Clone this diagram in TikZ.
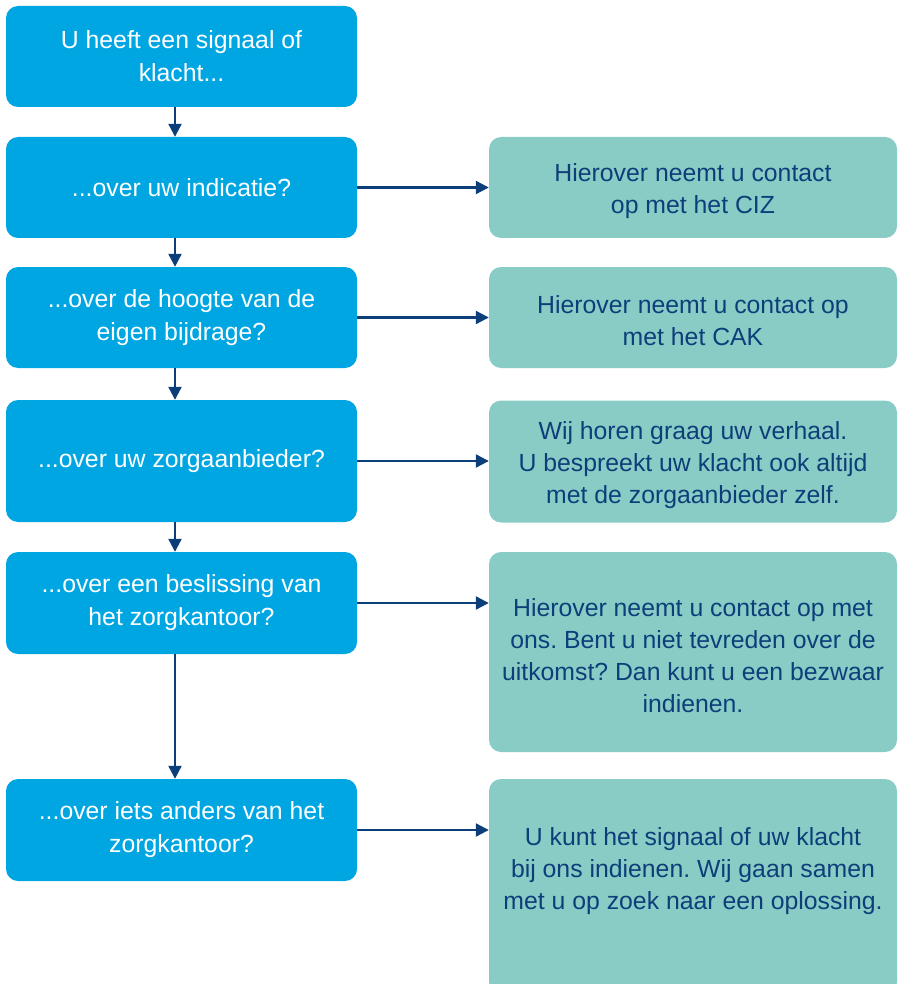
\documentclass[tikz,border=0pt]{standalone}
\usepackage{fontspec}
\setmainfont{Liberation Sans}
\usetikzlibrary{arrows.meta}
\definecolor{leftblue}{HTML}{00A6E2}
\definecolor{rightteal}{HTML}{89CCC5}
\definecolor{navy}{HTML}{0C3F7A}
\frenchspacing
\begin{document}
\begin{tikzpicture}[x=1pt,y=-1pt,
  lbox/.style={rounded corners=12pt, fill=leftblue, text=white, minimum width=351pt, align=center, inner sep=0pt, font=\fontsize{24.8}{33}\selectfont},
  rbox/.style={rounded corners=12pt, fill=rightteal, minimum width=408pt, inner sep=0pt},
  ttext/.style={text=navy, align=center, inner sep=0pt, font=\fontsize{24.8}{32}\selectfont},
  arr/.style={draw=navy, line width=2.2pt, -{Triangle[length=13pt,width=13pt]}}]
\useasboundingbox (0,0) rectangle (897,984);
\coordinate (ax) at (175,0);
% left boxes
\node[lbox, minimum height=101pt] (l1) at (181.5,56.5) {U heeft een signaal of\\klacht...};
\node[lbox, minimum height=101pt] (l2) at (181.5,187.5) {...over uw indicatie?};
\node[lbox, minimum height=101pt] (l3) at (181.5,317.5) {...over de hoogte van de\\eigen bijdrage?};
\node[lbox, minimum height=122pt] (l4) at (181.5,461) {...over uw zorgaanbieder?};
\node[lbox, minimum height=102pt] (l5) at (181.5,603) {...over een beslissing van\\het zorgkantoor?};
\node[lbox, minimum height=102pt] (l6) at (181.5,830) {...over iets anders van het\\zorgkantoor?};
% right boxes
\node[rbox, minimum height=101pt] (r1) at (693,187.5) {};
\node[rbox, minimum height=101pt] (r2) at (693,317.5) {};
\node[rbox, minimum height=122pt] (r3) at (693,461.5) {};
\node[rbox, minimum height=200pt] (r4) at (693,652) {};
\node[rbox, minimum height=215pt] (r5) at (693,886.5) {};
\node[ttext] (r1t) at (693,191) {Hierover neemt u contact\\op met het CIZ};
\node[ttext] (r2t) at (693,321) {Hierover neemt u contact op\\met het CAK};
\node[ttext] (r3t) at (693,465) {Wij horen graag uw verhaal.\\U bespreekt uw klacht ook altijd\\met de zorgaanbieder zelf.};
\node[ttext] (r4t) at (693,656) {Hierover neemt u contact op met\\ons. Bent u niet tevreden over de\\uitkomst? Dan kunt u een bezwaar\\indienen.};
\node[ttext] (r5t) at (693,871) {U kunt het signaal of uw klacht\\bij ons indienen. Wij gaan samen\\met u op zoek naar een oplossing.};
% vertical arrows
\draw[arr] (l1.south -| ax) -- (l2.north -| ax);
\draw[arr] (l2.south -| ax) -- (l3.north -| ax);
\draw[arr] (l3.south -| ax) -- (l4.north -| ax);
\draw[arr] (l4.south -| ax) -- (l5.north -| ax);
\draw[arr] (l5.south -| ax) -- (l6.north -| ax);
% horizontal arrows
\draw[arr] (l2.east) -- (r1.west |- l2.east);
\draw[arr] (l3.east) -- (r2.west |- l3.east);
\draw[arr] (l4.east) -- (r3.west |- l4.east);
\draw[arr] (l5.east) -- (r4.west |- l5.east);
\draw[arr] (l6.east) -- (r5.west |- l6.east);
\end{tikzpicture}
\end{document}
